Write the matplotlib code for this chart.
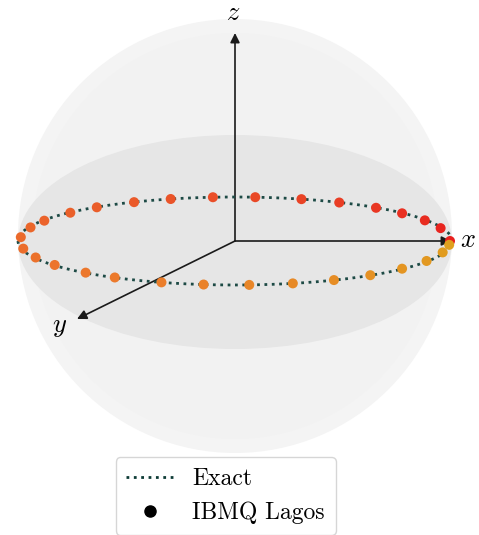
import matplotlib.pyplot as plt
import numpy as np
from matplotlib.patches import Circle, Ellipse
from matplotlib.lines import Line2D
from matplotlib.colors import LinearSegmentedColormap

plt.rcParams['font.family'] = 'serif'
plt.rcParams['font.serif'] = ['cmr10']
plt.rcParams['mathtext.fontset'] = 'cm'
plt.rcParams['axes.formatter.use_mathtext'] = True

# azimuthal phase (degrees) of the measured states on the equator
phase_lagos = [0, 17, 28, 39, 49, 61, 72, 84.6, 95.9, 107.4, 118, 130, 140,
               152.5, 162, 175, 190, 202, 213, 226, 236, 250, 261.6, 273.8,
               285.6, 297.4, 309, 321, 333, 345, 355]
# exact evolution: full circle on the equator
phase_exact = np.linspace(0, 360, 361)

# projected sphere geometry (pixel units)
cx, cy, R = 235, 241, 217
b_eq = 44

fig = plt.figure(figsize=(4.79, 5.35), dpi=100)
ax = fig.add_axes([0, 0, 1, 1])
ax.set_xlim(0, 479)
ax.set_ylim(535, 0)
ax.set_aspect('equal')
ax.axis('off')

# sphere body and shaded equatorial band
ax.add_patch(Circle((cx, cy - 5), R, facecolor='#f4f4f4', edgecolor='none', zorder=0))
ax.add_patch(Circle((cx, cy - 5), R - 14, facecolor='#f2f2f2', edgecolor='none', zorder=0))
ax.add_patch(Ellipse((cx, cy + 1), 2 * R, 2 * 107, facecolor='#e6e6e6',
                     edgecolor='none', zorder=1))

# axes arrows
arrow = dict(arrowstyle='-|>', color='#1a1a1a', lw=1.2, mutation_scale=14,
             shrinkA=0, shrinkB=0)
ax.annotate('', xy=(cx, 33), xytext=(cx, cy), arrowprops=arrow, zorder=2)
ax.annotate('', xy=(451, cy), xytext=(cx, cy), arrowprops=arrow, zorder=2)
ax.annotate('', xy=(77, 319), xytext=(cx, cy), arrowprops=arrow, zorder=2)
ax.text(cx - 2, 13, '$z$', fontsize=19, ha='center', va='center')
ax.text(468, 240, '$x$', fontsize=19, ha='center', va='center')
ax.text(60, 327, '$y$', fontsize=19, ha='center', va='center')

# exact curve
t = np.radians(phase_exact)
ax.plot(cx + R * np.cos(t), cy - b_eq * np.sin(t), ls=':', lw=2,
        color='#1d4a45', zorder=3)

# hardware points
cmap = LinearSegmentedColormap.from_list('lagos', ['#e8201e', '#ea5a2a', '#ec7a2c', '#e0a01e'])
p = np.radians(phase_lagos)
cols = cmap(np.linspace(0, 1, len(phase_lagos)))
ax.scatter(cx + (R - 2) * np.cos(p), cy - b_eq * np.sin(p), s=52, c=cols,
           edgecolors='none', zorder=4)

handles = [Line2D([], [], ls=':', lw=2, color='#0d3b36'),
           Line2D([], [], ls='', marker='o', ms=8, color='black')]
ax.legend(handles, ['Exact', 'IBMQ Lagos'], loc='lower center',
          bbox_to_anchor=(0.471, -0.022), fontsize=17, frameon=True,
          edgecolor='#cccccc', handlelength=2.0, borderpad=0.45,
          labelspacing=0.5)

plt.savefig('out.png', dpi=100)
